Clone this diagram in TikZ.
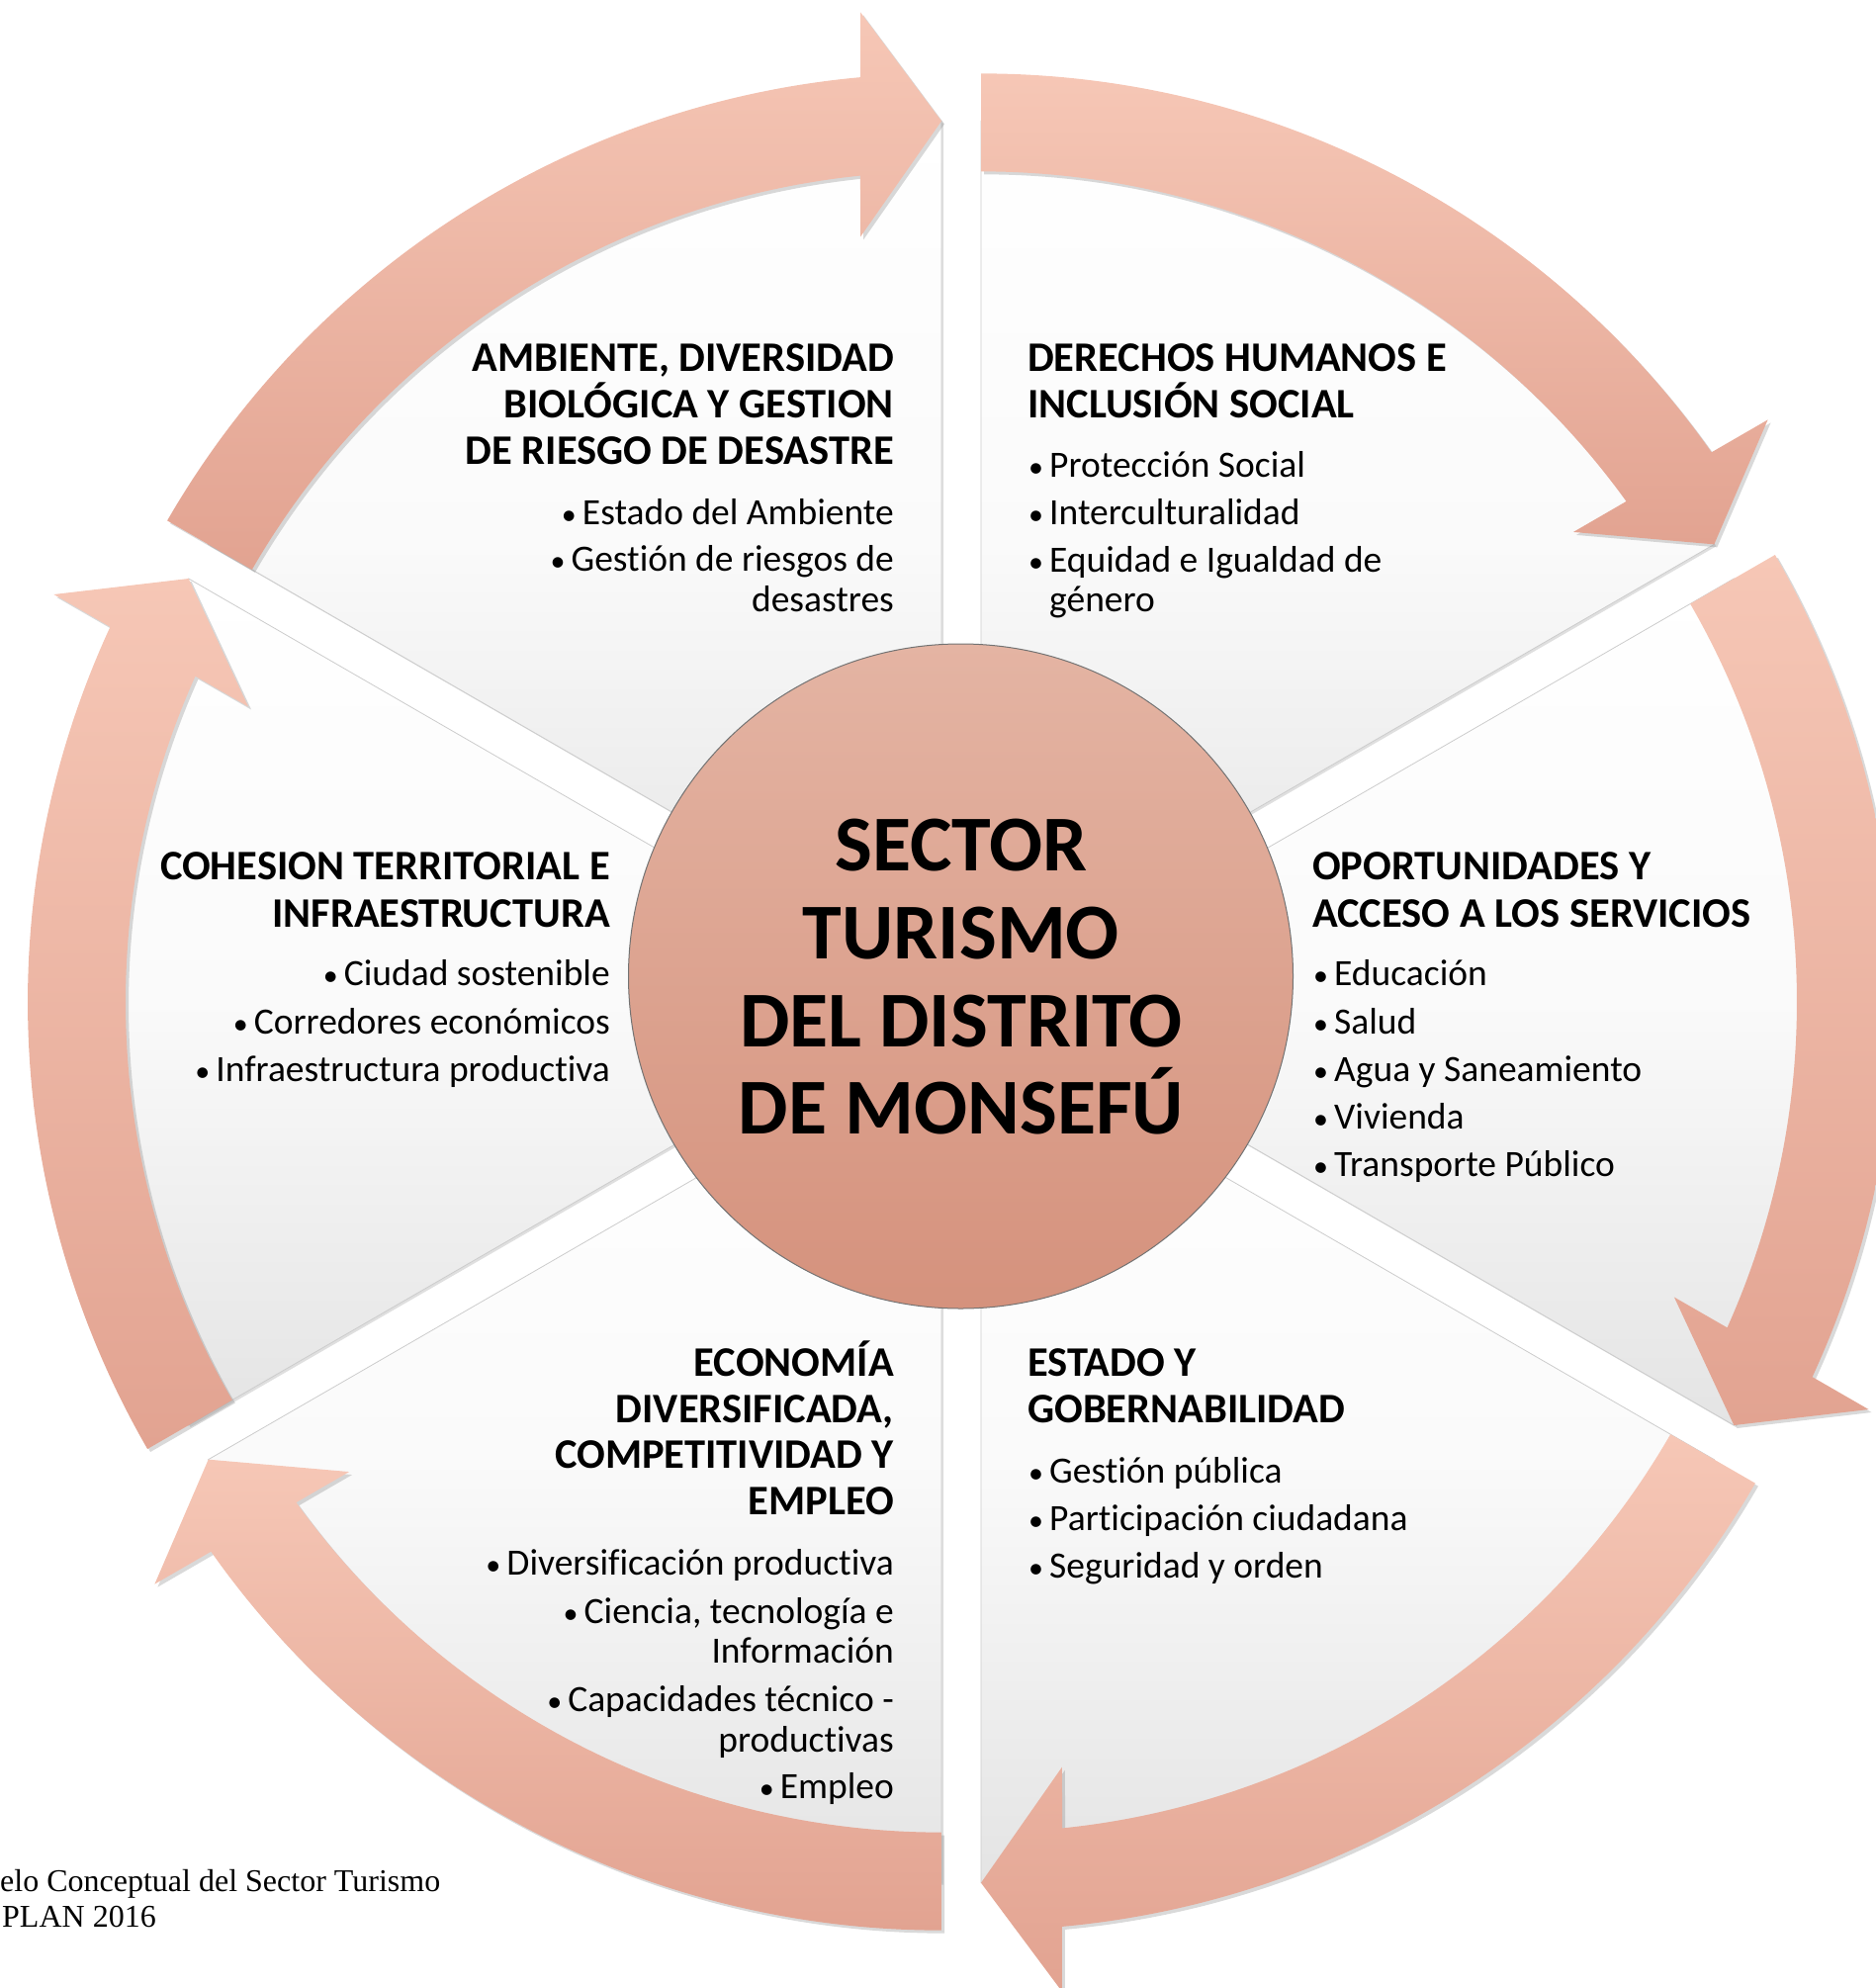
\documentclass[tikz,border=0pt]{standalone}
\usepackage{fontspec}
\setmainfont{Carlito}[Ligatures={NoCommon}]
\newfontfamily\capfont{Liberation Serif}
\usetikzlibrary{shadows}
\definecolor{arrL}{RGB}{246,199,182}
\definecolor{arrD}{RGB}{226,163,145}
\definecolor{hubT}{RGB}{228,180,163}
\definecolor{hubB}{RGB}{213,146,125}
\definecolor{wedB}{RGB}{228,228,228}
\definecolor{wedM}{RGB}{250,250,250}
\newcommand\bu{\makebox[22pt][l]{\hspace{1pt}\scalebox{0.8}{•}}}
\begin{document}
\begin{tikzpicture}[x=1pt,y=-1pt,
  wedge/.style={top color=white, bottom color=wedB, middle color=wedM, draw=gray!40, line width=0.8pt,
    drop shadow={shadow xshift=2pt, shadow yshift=-2pt, opacity=0.25}},
  arrowshape/.style={top color=arrL, bottom color=arrD,
    drop shadow={shadow xshift=3pt, shadow yshift=-3pt, opacity=0.3}},
  hd/.style={font=\fontsize{42.5}{46}\selectfont\bfseries, inner sep=0pt},
  itm/.style={font=\fontsize{37.5}{41}\selectfont, inner sep=0pt},
  ctr/.style={font=\fontsize{80}{88}\selectfont\bfseries, inner sep=0pt, anchor=base},
  captxt/.style={font=\capfont\fontsize{32}{36}\selectfont, inner sep=0pt, anchor=base west},
  R/.style={anchor=base east}, L/.style={anchor=base west}]
\useasboundingbox (0,0) rectangle (1897,2010);
\coordinate (O) at (972,1013);
% wedges
\foreach \p in {0,-60,-120,-180,-240,-300}{
  \pgfmathsetmacro\hh{\p+30}
  \pgfmathsetmacro\tl{\p-30}
  \begin{scope}[shift={(O)}, shift={(\p:40)}]
    \path[wedge] (0,0) -- (\tl:856) arc[start angle=\tl, end angle=\hh, radius=856] -- cycle;
  \end{scope}
}
% arrows
\foreach \p in {0,-60,-120,-180,-240,-300}{
  \pgfmathsetmacro\hh{\p+30}
  \pgfmathsetmacro\tl{\p-30}
  \pgfmathsetmacro\ha{\hh-5.2}
  \pgfmathsetmacro\hb{\hh-4.85}
  \pgfmathsetmacro\hc{\hh-6.33}
  \pgfmathsetmacro\hdd{\hh-5.85}
  \begin{scope}[shift={(O)}, shift={(\p:40)}]
    \path[arrowshape] (\tl:904) arc[start angle=\tl, end angle=\ha, radius=904]
      -- (\hb:969.5) -- (\hh:856) -- (\hc:743.5) -- (\hdd:805)
      arc[start angle=\hdd, end angle=\tl, radius=805] -- cycle;
  \end{scope}
}
% hub
\node[circle, minimum size=672pt, inner sep=0pt, top color=hubT, bottom color=hubB,
  draw=black!55, line width=1pt] (hub) at (971.5,987) {};
\node[ctr] (h1) at (972,880) {SECTOR};
\node[ctr] (h2) at (972,969) {TURISMO};
\node[ctr] (h3) at (972,1058) {DEL DISTRITO};
\node[ctr] (h4) at (972,1146) {DE MONSEFÚ};
% top-left
\node[hd,R] (a1) at (904,375) {AMBIENTE, DIVERSIDAD};
\node[hd,R] (a2) at (904,422) {BIOLÓGICA Y GESTION};
\node[hd,R] (a3) at (904,469) {DE RIESGO DE DESASTRE};
\node[itm,R] (a4) at (904,530) {\bu Estado del Ambiente};
\node[itm,R] (a5) at (904,577) {\bu Gestión de riesgos de};
\node[itm,R] (a6) at (904,618) {desastres};
% top-right
\node[hd,L] (b1) at (1039,375) {DERECHOS HUMANOS E};
\node[hd,L] (b2) at (1039,422) {INCLUSIÓN SOCIAL};
\node[itm,L] (b3) at (1039,482) {\bu Protección Social};
\node[itm,L] (b4) at (1039,530) {\bu Interculturalidad};
\node[itm,L] (b5) at (1039,578) {\bu Equidad e Igualdad de};
\node[itm,L] (b6) at (1039,618) {\hspace*{22pt}género};
% left
\node[hd,R] (c1) at (617,889) {COHESION TERRITORIAL E};
\node[hd,R] (c2) at (617,937) {INFRAESTRUCTURA};
\node[itm,R] (c3) at (617,996) {\bu Ciudad sostenible};
\node[itm,R] (c4) at (617,1045) {\bu Corredores económicos};
\node[itm,R] (c5) at (617,1093) {\bu Infraestructura productiva};
% right
\node[hd,L] (d1) at (1327,889) {OPORTUNIDADES Y};
\node[hd,L] (d2) at (1327,937) {ACCESO A LOS SERVICIOS};
\node[itm,L] (d3) at (1327,996) {\bu Educación};
\node[itm,L] (d4) at (1327,1045) {\bu Salud};
\node[itm,L] (d5) at (1327,1093) {\bu Agua y Saneamiento};
\node[itm,L] (d6) at (1327,1141) {\bu Vivienda};
\node[itm,L] (d7) at (1327,1189) {\bu Transporte Público};
% bottom-left
\node[hd,R] (e1) at (904,1391) {ECONOMÍA};
\node[hd,R] (e2) at (904,1438) {DIVERSIFICADA,};
\node[hd,R] (e3) at (904,1484) {COMPETITIVIDAD Y};
\node[hd,R] (e4) at (904,1531) {EMPLEO};
\node[itm,R] (e5) at (904,1592) {\bu Diversificación productiva};
\node[itm,R] (e6) at (904,1641) {\bu Ciencia, tecnología e};
\node[itm,R] (e7) at (904,1681) {Información};
\node[itm,R] (e8) at (904,1730) {\bu Capacidades técnico -};
\node[itm,R] (e9) at (904,1771) {productivas};
\node[itm,R] (e10) at (904,1818) {\bu Empleo};
% bottom-right
\node[hd,L] (f1) at (1039,1391) {ESTADO Y};
\node[hd,L] (f2) at (1039,1438) {GOBERNABILIDAD};
\node[itm,L] (f3) at (1039,1499) {\bu Gestión pública};
\node[itm,L] (f4) at (1039,1547) {\bu Participación ciudadana};
\node[itm,L] (f5) at (1039,1595) {\bu Seguridad y orden};
% caption
\node[captxt] (g1) at (0,1912) {elo Conceptual del Sector Turismo};
\node[captxt] (g2) at (2,1948) {PLAN 2016};
\end{tikzpicture}
\end{document}
